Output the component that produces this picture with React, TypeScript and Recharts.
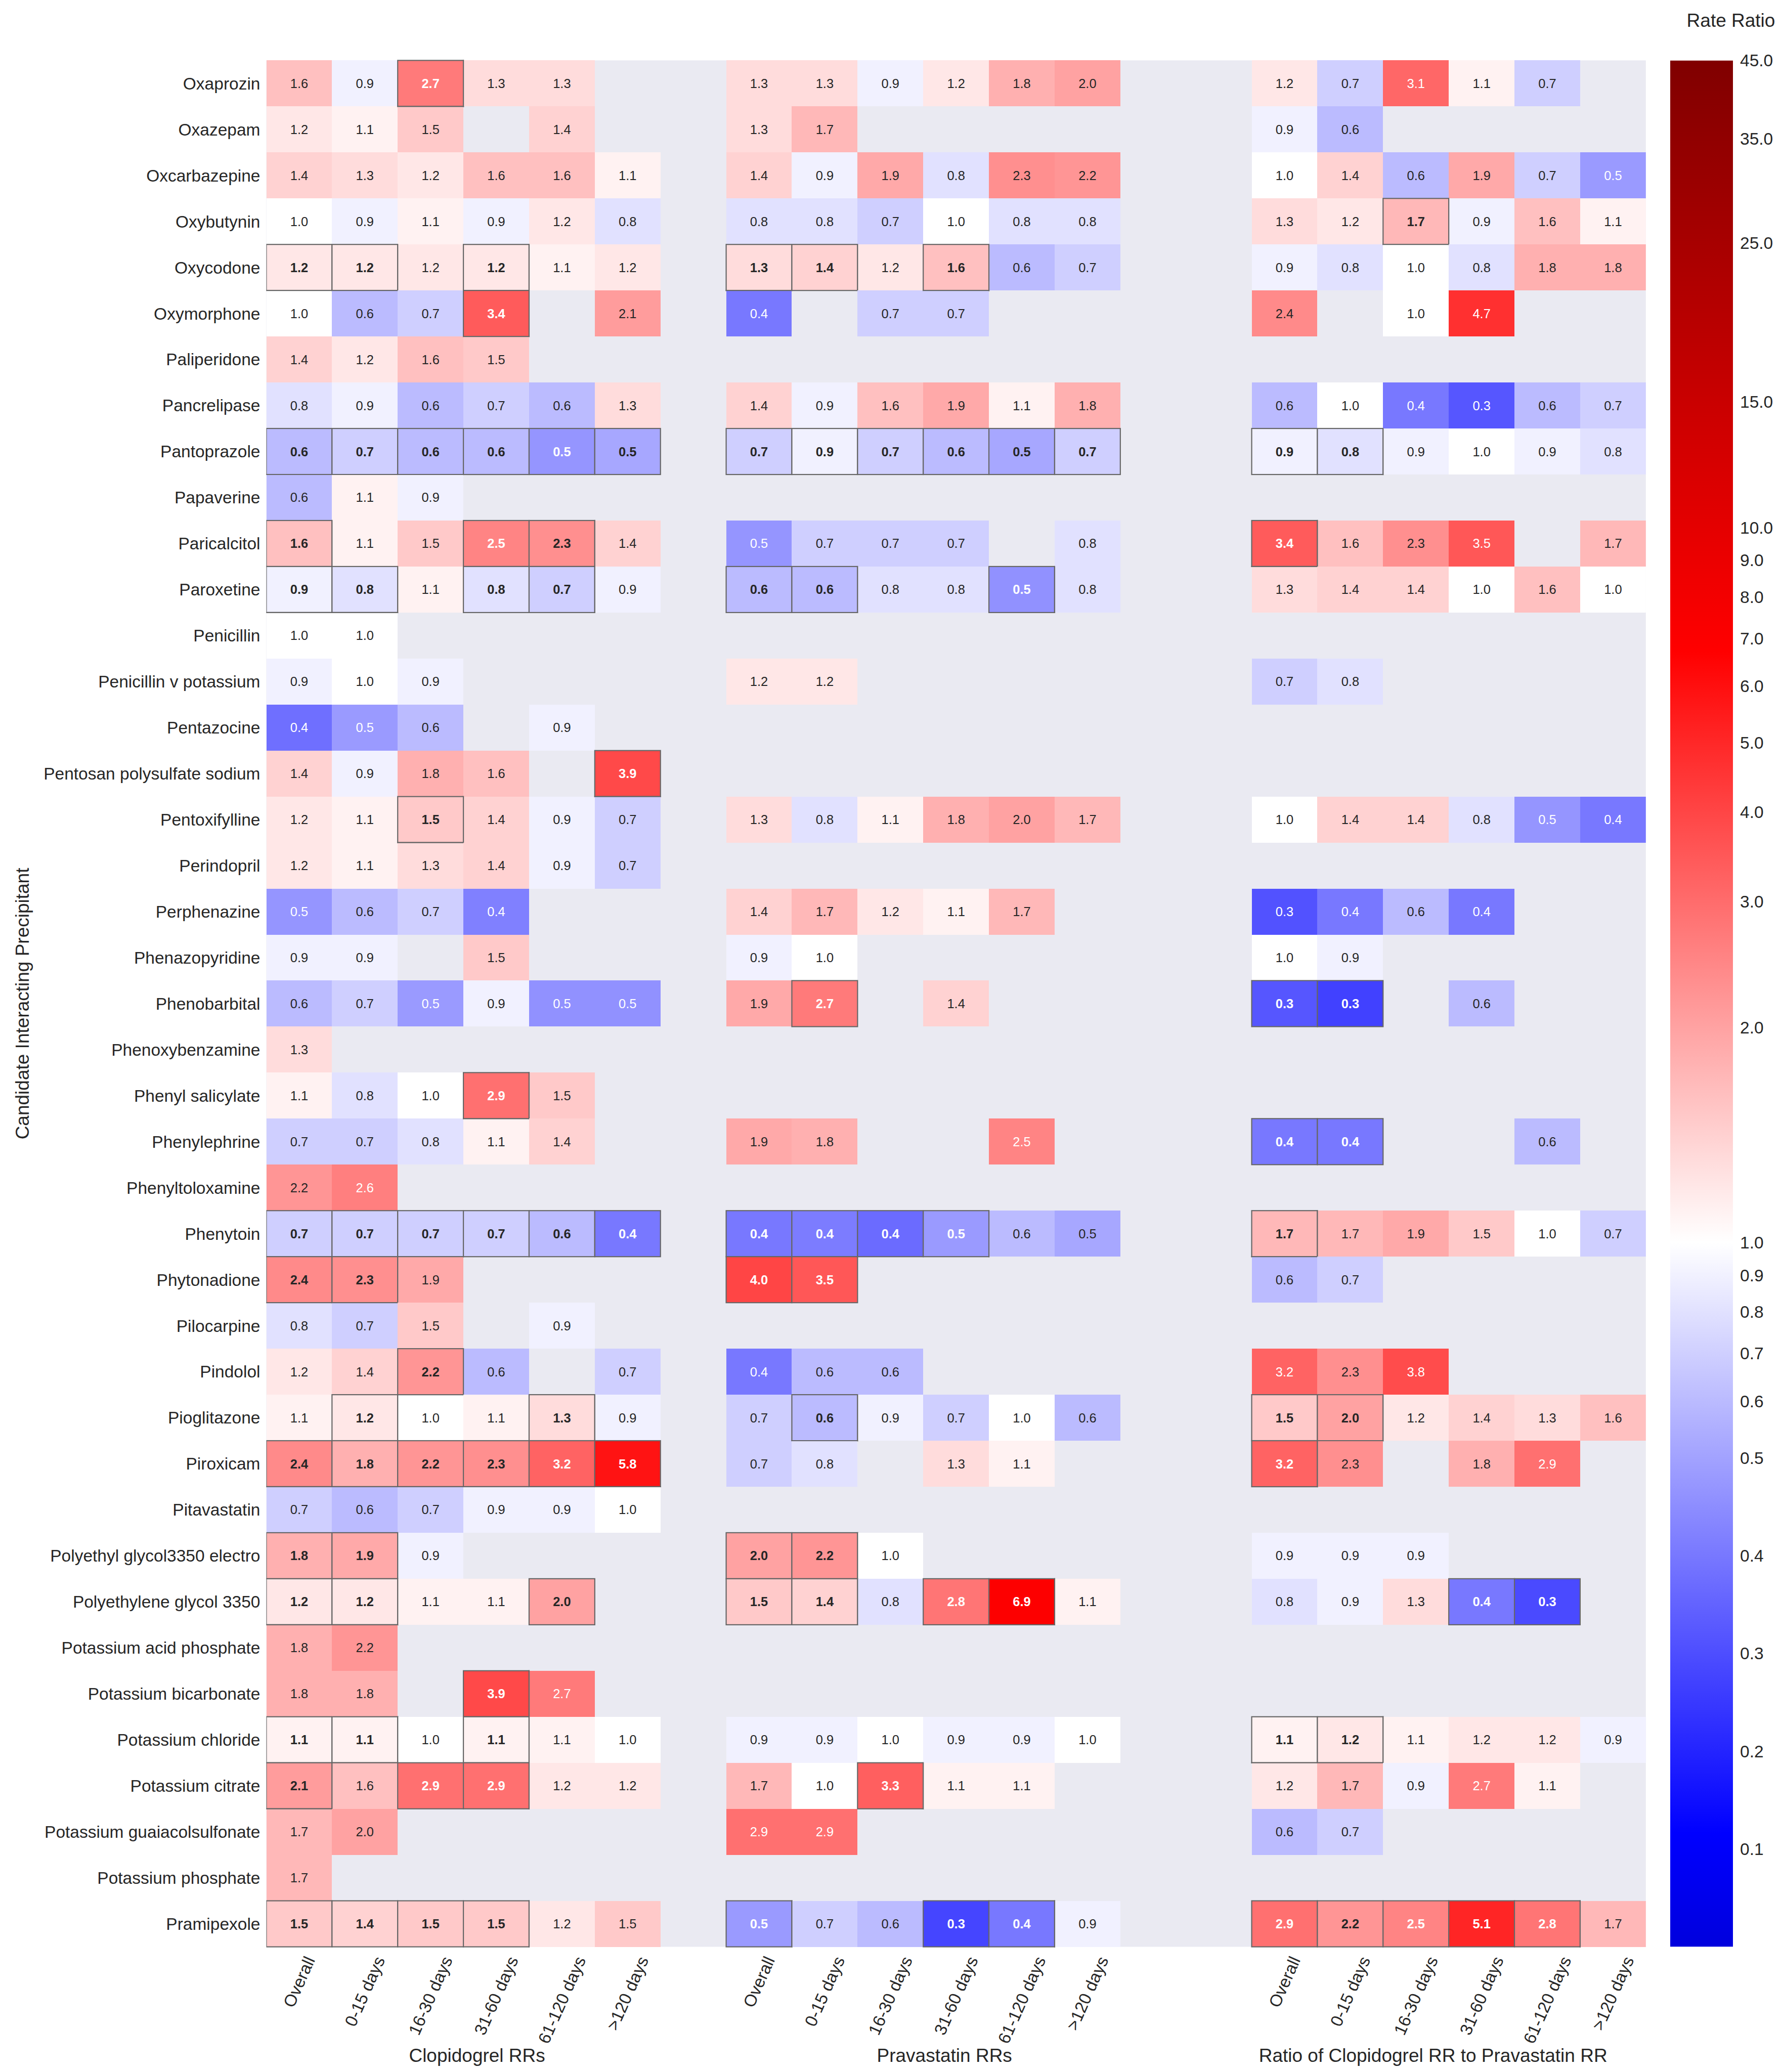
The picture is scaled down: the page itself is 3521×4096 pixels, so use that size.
import { BarChart, Bar, XAxis, YAxis, CartesianGrid } from 'recharts';

document.body.style.margin = '0';

const _ = null;

const drugs = [
  'Oxaprozin', 'Oxazepam', 'Oxcarbazepine', 'Oxybutynin', 'Oxycodone', 'Oxymorphone',
  'Paliperidone', 'Pancrelipase', 'Pantoprazole', 'Papaverine', 'Paricalcitol', 'Paroxetine',
  'Penicillin', 'Penicillin v potassium', 'Pentazocine', 'Pentosan polysulfate sodium',
  'Pentoxifylline', 'Perindopril', 'Perphenazine', 'Phenazopyridine', 'Phenobarbital',
  'Phenoxybenzamine', 'Phenyl salicylate', 'Phenylephrine', 'Phenyltoloxamine', 'Phenytoin',
  'Phytonadione', 'Pilocarpine', 'Pindolol', 'Pioglitazone', 'Piroxicam', 'Pitavastatin',
  'Polyethyl glycol3350 electro', 'Polyethylene glycol 3350', 'Potassium acid phosphate',
  'Potassium bicarbonate', 'Potassium chloride', 'Potassium citrate',
  'Potassium guaiacolsulfonate', 'Potassium phosphate', 'Pramipexole',
];

const columnLabels = ['Overall', '0-15 days', '16-30 days', '31-60 days', '61-120 days', '>120 days'];
const groupLabels = ['Clopidogrel RRs', 'Pravastatin RRs', 'Ratio of Clopidogrel RR to Pravastatin RR'];

// rate ratios, one row per drug, columns as columnLabels
const clopidogrelRR = [
  [1.6, 0.9, 2.7, 1.3, 1.3, _],
  [1.2, 1.1, 1.5, _, 1.4, _],
  [1.4, 1.3, 1.2, 1.6, 1.6, 1.1],
  [1.0, 0.9, 1.1, 0.9, 1.2, 0.8],
  [1.2, 1.2, 1.2, 1.2, 1.1, 1.2],
  [1.0, 0.6, 0.7, 3.4, _, 2.1],
  [1.4, 1.2, 1.6, 1.5, _, _],
  [0.8, 0.9, 0.6, 0.7, 0.6, 1.3],
  [0.6, 0.7, 0.6, 0.6, 0.47, 0.52],
  [0.6, 1.1, 0.9, _, _, _],
  [1.6, 1.1, 1.5, 2.5, 2.3, 1.4],
  [0.9, 0.8, 1.1, 0.8, 0.7, 0.9],
  [1.0, 1.0, _, _, _, _],
  [0.9, 1.0, 0.9, _, _, _],
  [0.38, 0.48, 0.6, _, 0.9, _],
  [1.4, 0.9, 1.8, 1.6, _, 3.9],
  [1.2, 1.1, 1.5, 1.4, 0.9, 0.7],
  [1.2, 1.1, 1.3, 1.4, 0.9, 0.7],
  [0.47, 0.6, 0.7, 0.42, _, _],
  [0.9, 0.9, _, 1.5, _, _],
  [0.6, 0.7, 0.48, 0.9, 0.46, 0.46],
  [1.3, _, _, _, _, _],
  [1.1, 0.8, 1.0, 2.9, 1.5, _],
  [0.7, 0.7, 0.8, 1.1, 1.4, _],
  [2.2, 2.6, _, _, _, _],
  [0.7, 0.7, 0.7, 0.7, 0.6, 0.4],
  [2.4, 2.3, 1.9, _, _, _],
  [0.8, 0.7, 1.5, _, 0.9, _],
  [1.2, 1.4, 2.2, 0.6, _, 0.7],
  [1.1, 1.2, 1.0, 1.1, 1.3, 0.9],
  [2.4, 1.8, 2.2, 2.3, 3.2, 5.8],
  [0.7, 0.6, 0.7, 0.9, 0.9, 1.0],
  [1.8, 1.9, 0.9, _, _, _],
  [1.2, 1.2, 1.1, 1.1, 2.0, _],
  [1.8, 2.2, _, _, _, _],
  [1.8, 1.8, _, 3.9, 2.7, _],
  [1.1, 1.1, 1.0, 1.1, 1.1, 1.0],
  [2.1, 1.6, 2.9, 2.9, 1.2, 1.2],
  [1.7, 2.0, _, _, _, _],
  [1.7, _, _, _, _, _],
  [1.5, 1.4, 1.5, 1.5, 1.2, 1.5],
];

const pravastatinRR = [
  [1.3, 1.3, 0.9, 1.2, 1.8, 2.0],
  [1.3, 1.7, _, _, _, _],
  [1.4, 0.9, 1.9, 0.8, 2.3, 2.2],
  [0.8, 0.8, 0.7, 1.0, 0.8, 0.8],
  [1.3, 1.4, 1.2, 1.6, 0.6, 0.7],
  [0.4, _, 0.7, 0.7, _, _],
  [_, _, _, _, _, _],
  [1.4, 0.9, 1.6, 1.9, 1.1, 1.8],
  [0.7, 0.9, 0.7, 0.6, 0.52, 0.7],
  [_, _, _, _, _, _],
  [0.47, 0.7, 0.7, 0.7, _, 0.8],
  [0.6, 0.6, 0.8, 0.8, 0.46, 0.8],
  [_, _, _, _, _, _],
  [1.2, 1.2, _, _, _, _],
  [_, _, _, _, _, _],
  [_, _, _, _, _, _],
  [1.3, 0.8, 1.1, 1.8, 2.0, 1.7],
  [_, _, _, _, _, _],
  [1.4, 1.7, 1.2, 1.1, 1.7, _],
  [0.9, 1.0, _, _, _, _],
  [1.9, 2.7, _, 1.4, _, _],
  [_, _, _, _, _, _],
  [_, _, _, _, _, _],
  [1.9, 1.8, _, _, 2.5, _],
  [_, _, _, _, _, _],
  [0.4, 0.41, 0.37, 0.48, 0.6, 0.52],
  [4.0, 3.5, _, _, _, _],
  [_, _, _, _, _, _],
  [0.4, 0.6, 0.6, _, _, _],
  [0.7, 0.6, 0.9, 0.7, 1.0, 0.6],
  [0.7, 0.8, _, 1.3, 1.1, _],
  [_, _, _, _, _, _],
  [2.0, 2.2, 1.0, _, _, _],
  [1.5, 1.4, 0.8, 2.8, 6.9, 1.1],
  [_, _, _, _, _, _],
  [_, _, _, _, _, _],
  [0.9, 0.9, 1.0, 0.9, 0.9, 1.0],
  [1.7, 1.0, 3.3, 1.1, 1.1, _],
  [2.9, 2.9, _, _, _, _],
  [_, _, _, _, _, _],
  [0.48, 0.7, 0.6, 0.28, 0.4, 0.9],
];

const ratioRR = [
  [1.2, 0.7, 3.1, 1.1, 0.7, _],
  [0.9, 0.6, _, _, _, _],
  [1.0, 1.4, 0.6, 1.9, 0.7, 0.48],
  [1.3, 1.2, 1.7, 0.9, 1.6, 1.1],
  [0.9, 0.8, 1.0, 0.8, 1.8, 1.8],
  [2.4, _, 1.0, 4.7, _, _],
  [_, _, _, _, _, _],
  [0.6, 1.0, 0.4, 0.32, 0.6, 0.7],
  [0.9, 0.8, 0.9, 1.0, 0.9, 0.8],
  [_, _, _, _, _, _],
  [3.4, 1.6, 2.3, 3.5, _, 1.7],
  [1.3, 1.4, 1.4, 1.0, 1.6, 1.0],
  [_, _, _, _, _, _],
  [0.7, 0.8, _, _, _, _],
  [_, _, _, _, _, _],
  [_, _, _, _, _, _],
  [1.0, 1.4, 1.4, 0.8, 0.47, 0.4],
  [_, _, _, _, _, _],
  [0.31, 0.4, 0.6, 0.4, _, _],
  [1.0, 0.9, _, _, _, _],
  [0.32, 0.27, _, 0.6, _, _],
  [_, _, _, _, _, _],
  [_, _, _, _, _, _],
  [0.4, 0.4, _, _, 0.6, _],
  [_, _, _, _, _, _],
  [1.7, 1.7, 1.9, 1.5, 1.0, 0.7],
  [0.6, 0.7, _, _, _, _],
  [_, _, _, _, _, _],
  [3.2, 2.3, 3.8, _, _, _],
  [1.5, 2.0, 1.2, 1.4, 1.3, 1.6],
  [3.2, 2.3, _, 1.8, 2.9, _],
  [_, _, _, _, _, _],
  [0.9, 0.9, 0.9, _, _, _],
  [0.8, 0.9, 1.3, 0.4, 0.29, _],
  [_, _, _, _, _, _],
  [_, _, _, _, _, _],
  [1.1, 1.2, 1.1, 1.2, 1.2, 0.9],
  [1.2, 1.7, 0.9, 2.7, 1.1, _],
  [0.6, 0.7, _, _, _, _],
  [_, _, _, _, _, _],
  [2.9, 2.2, 2.5, 5.1, 2.8, 1.7],
];

// significant (boxed, bold) cells
const clopidogrelSig = [
  '001000', '000000', '000000', '000000', '110100', '000100', '000000', '000000', '111111',
  '000000', '100110', '110110', '000000', '000000', '000000', '000001', '001000', '000000',
  '000000', '000000', '000000', '000000', '000100', '000000', '000000', '111111', '110000',
  '000000', '001000', '010010', '111111', '000000', '110000', '110010', '000000', '000100',
  '110100', '101100', '000000', '000000', '111100',
];
const pravastatinSig = [
  '000000', '000000', '000000', '000000', '110100', '000000', '000000', '000000', '111111',
  '000000', '000000', '110010', '000000', '000000', '000000', '000000', '000000', '000000',
  '000000', '000000', '010000', '000000', '000000', '000000', '000000', '111100', '110000',
  '000000', '000000', '010000', '000000', '000000', '110000', '110110', '000000', '000000',
  '000000', '001000', '000000', '000000', '100110',
];
const ratioSig = [
  '000000', '000000', '000000', '001000', '000000', '000000', '000000', '000000', '110000',
  '000000', '100000', '000000', '000000', '000000', '000000', '000000', '000000', '000000',
  '000000', '000000', '110000', '000000', '000000', '110000', '000000', '100000', '000000',
  '000000', '000000', '110000', '100000', '000000', '000000', '000110', '000000', '000000',
  '110000', '000000', '000000', '000000', '111110',
];

const colorbarTicks = [45, 35, 25, 15, 10, 9, 8, 7, 6, 5, 4, 3, 2, 1, 0.9, 0.8, 0.7, 0.6, 0.5, 0.4, 0.3, 0.2, 0.1];

const panelValues = [clopidogrelRR, pravastatinRR, ratioRR];
const panelSig = [clopidogrelSig, pravastatinSig, ratioSig];

// layout
const FONT = "'Liberation Sans', Arial, Helvetica, sans-serif";
const INK = '#262626';
const W = 3521;
const H = 4096;
const PLOT_LEFT = 526.5;
const PLOT_RIGHT = 3253.8;
const PLOT_TOP = 119.4;
const PLOT_BOTTOM = 3848.5;
const TICK_FS = 33.5;
const LABEL_FS = 37;
const CELL_FS = 25.5;
const X_ANGLE = 66;
const X_LABEL_TOP = 3864.5;
const GROUP_BASELINE = 4076;
const GROUP_SHIFT = [27, 42, -31]; // group titles sit a little off the panel centres
const CB_LEFT = 3302;
const CB_BAR_W = 124;
const CB_AXIS_W = 95;
const BORDER = '#666666';
const BORDER_W = 2.2;

const panelStarts = [0, 7, 15];
const SLOT_COUNT = 21;
const slotInfo = Array.from({ length: SLOT_COUNT }, (_v, s) => {
  for (let p = 0; p < panelStarts.length; p++) {
    if (s >= panelStarts[p] && s < panelStarts[p] + 6) return { panel: p, col: s - panelStarts[p] };
  }
  return null;
});
const groupCenters = panelStarts.map((s) => s + 3);
const xTicks = [
  ...slotInfo.map((info, s) => (info ? s + 0.5 : null)).filter((v) => v != null),
  ...groupCenters,
];

const tableRows = drugs.map((drug) => {
  const row: Record<string, any> = { drug };
  for (let s = 0; s < SLOT_COUNT; s++) row[`s${s}`] = 1;
  return row;
});

// colour scale: log above 0.5, linear below, seismic colormap centred on 1
const LOG_HALF = Math.log10(0.5);
const BELOW_HALF_SLOPE = 1.368;
const ratioPos = (v: number) => (v >= 0.5 ? Math.log10(v) : LOG_HALF - (0.5 - v) * BELOW_HALF_SLOPE);
const CB_TOP = Math.log10(45);
const CB_BOTTOM = ratioPos(0);

const seismicStops: [number, number[]][] = [
  [0, [0, 0, 0.3]],
  [0.25, [0, 0, 1]],
  [0.5, [1, 1, 1]],
  [0.75, [1, 0, 0]],
  [1, [0.5, 0, 0]],
];
const seismic = (t: number) => {
  const tt = Math.max(0, Math.min(1, t));
  for (let i = 1; i < seismicStops.length; i++) {
    const [t1, c1] = seismicStops[i];
    const [t0, c0] = seismicStops[i - 1];
    if (tt <= t1) {
      const f = (tt - t0) / (t1 - t0);
      return c0.map((c, k) => c + (c1[k] - c) * f);
    }
  }
  return seismicStops[seismicStops.length - 1][1];
};
const toHex = (c: number[]) =>
  '#' + c.map((x) => Math.round(x * 255).toString(16).padStart(2, '0')).join('');
const rateRGB = (v: number) => seismic(0.5 + ratioPos(v) / (2 * CB_TOP));
const luminance = (c: number[]) => {
  const lin = c.map((x) => (x <= 0.03928 ? x / 12.92 : Math.pow((x + 0.055) / 1.055, 2.4)));
  return 0.2126 * lin[0] + 0.7152 * lin[1] + 0.0722 * lin[2];
};

const gradientStops = [1, 0.75, 0.5, 0.25, 0.5 + CB_BOTTOM / (2 * CB_TOP)].map((t) => ({
  offset: (CB_TOP - (t - 0.5) * 2 * CB_TOP) / (CB_TOP - CB_BOTTOM),
  color: toHex(seismic(t)),
}));
const colorbarData = [{ name: 'Rate Ratio', range: [CB_BOTTOM, CB_TOP] }];

let measureCtx: CanvasRenderingContext2D | null = null;
const textWidth = (s: string, size: number) => {
  if (!measureCtx) measureCtx = document.createElement('canvas').getContext('2d');
  if (!measureCtx) return s.length * size * 0.5;
  measureCtx.font = `${size}px ${FONT}`;
  return measureCtx.measureText(s).width;
};

const valueAt = (panel: number, row: number, col: number) =>
  row < 0 || row >= drugs.length || col < 0 || col > 5 ? null : panelValues[panel][row][col];
const isSig = (panel: number, row: number, col: number) =>
  valueAt(panel, row, col) != null && panelSig[panel][row][col] === '1';

const renderCell = (slot: number) => (props: any) => {
  const { x, y, width, height, payload } = props;
  const info = slotInfo[slot];
  if (!info || !payload) return <g />;
  const row = drugs.indexOf(payload.drug);
  const v = valueAt(info.panel, row, info.col);
  if (v == null) return <g />;
  const sig = isSig(info.panel, row, info.col);
  const rgb = rateRGB(v);
  const half = BORDER_W / 2;
  return (
    <g>
      <rect x={x} y={y} width={width} height={height} fill={toHex(rgb)} shapeRendering="crispEdges" />
      {!sig && isSig(info.panel, row, info.col - 1) && (
        <line x1={x} x2={x} y1={y - half} y2={y + height + half} stroke={BORDER} strokeWidth={BORDER_W} />
      )}
      {!sig && isSig(info.panel, row - 1, info.col) && (
        <line x1={x - half} x2={x + width + half} y1={y} y2={y} stroke={BORDER} strokeWidth={BORDER_W} />
      )}
      {sig && (
        <rect x={x} y={y} width={width} height={height} fill="none" stroke={BORDER} strokeWidth={BORDER_W} />
      )}
      <text
        x={x + width / 2}
        y={y + height / 2}
        textAnchor="middle"
        dominantBaseline="central"
        fontSize={CELL_FS}
        fontWeight={sig ? 'bold' : 'normal'}
        fill={luminance(rgb) > 0.408 ? INK : '#ffffff'}
      >
        {v.toFixed(1)}
      </text>
    </g>
  );
};

const XTick = (props: any) => {
  const { x, payload } = props;
  const v = payload?.value;
  const gi = groupCenters.indexOf(v);
  if (gi >= 0) {
    return (
      <text x={x + GROUP_SHIFT[gi]} y={GROUP_BASELINE} textAnchor="middle" fontSize={LABEL_FS} fill={INK}>
        {groupLabels[gi]}
      </text>
    );
  }
  const info = slotInfo[Math.floor(v)];
  if (!info) return <g />;
  const label = columnLabels[info.col];
  const a = (X_ANGLE * Math.PI) / 180;
  const px = x + (textWidth(label, TICK_FS) * Math.cos(a)) / 2;
  const py = X_LABEL_TOP + TICK_FS * 0.36 * Math.cos(a);
  return (
    <text
      x={px}
      y={py}
      textAnchor="end"
      dominantBaseline="central"
      transform={`rotate(${-X_ANGLE} ${px} ${py})`}
      fontSize={TICK_FS}
      fill={INK}
    >
      {label}
    </text>
  );
};

const App = () => {
  return (
    <div style={{ position: 'relative', width: W, height: H, fontFamily: FONT, background: '#fff' }}>
      <BarChart
        width={W}
        height={H}
        data={tableRows}
        layout="vertical"
        margin={{ top: PLOT_TOP, right: W - PLOT_RIGHT, bottom: 0, left: 0 }}
        barCategoryGap={0}
        barGap={0}
      >
        <CartesianGrid fill="#EAEAF2" stroke="none" horizontal={false} vertical={false} />
        <XAxis
          type="number"
          domain={[0, SLOT_COUNT]}
          allowDataOverflow
          ticks={xTicks}
          interval={0}
          axisLine={false}
          tickLine={false}
          height={H - PLOT_BOTTOM}
          tick={(p: any) => <XTick {...p} />}
        />
        <YAxis
          type="category"
          dataKey="drug"
          width={PLOT_LEFT}
          interval={0}
          axisLine={false}
          tickLine={false}
          tickSize={0}
          tickMargin={12}
          tick={{ fontSize: TICK_FS, fill: INK }}
          label={{
            value: 'Candidate Interacting Precipitant',
            angle: -90,
            position: 'insideLeft',
            offset: 44,
            style: { textAnchor: 'middle', fontSize: LABEL_FS, fill: INK },
          }}
        />
        {slotInfo.map((_info, s) => (
          <Bar key={s} dataKey={`s${s}`} stackId="cells" isAnimationActive={false} shape={renderCell(s)} />
        ))}
      </BarChart>

      <div style={{ position: 'absolute', left: CB_LEFT, top: 0 }}>
        <BarChart
          width={CB_BAR_W + CB_AXIS_W}
          height={H}
          data={colorbarData}
          margin={{ top: PLOT_TOP, right: 0, bottom: H - PLOT_BOTTOM, left: 0 }}
          barCategoryGap={0}
        >
          <defs>
            <linearGradient id="rateGradient" x1="0" y1="0" x2="0" y2="1">
              {gradientStops.map((g, i) => (
                <stop key={i} offset={g.offset} stopColor={g.color} />
              ))}
            </linearGradient>
          </defs>
          <XAxis dataKey="name" hide />
          <YAxis
            orientation="right"
            type="number"
            domain={[CB_BOTTOM, CB_TOP]}
            allowDataOverflow
            ticks={colorbarTicks.map(ratioPos)}
            interval={0}
            tickFormatter={(p: number) => {
              const t = colorbarTicks.find((c) => Math.abs(ratioPos(c) - p) < 1e-9);
              return t == null ? '' : t.toFixed(1);
            }}
            width={CB_AXIS_W}
            axisLine={false}
            tickLine={false}
            tickSize={0}
            tickMargin={14}
            tick={{ fontSize: TICK_FS, fill: INK }}
          />
          <Bar dataKey="range" fill="url(#rateGradient)" isAnimationActive={false} />
        </BarChart>
      </div>

      <div
        style={{
          position: 'absolute',
          left: 3422 - 150,
          width: 300,
          top: 40 - LABEL_FS / 2,
          lineHeight: `${LABEL_FS}px`,
          fontSize: LABEL_FS,
          textAlign: 'center',
          color: INK,
        }}
      >
        Rate Ratio
      </div>
    </div>
  );
};

export default App;
